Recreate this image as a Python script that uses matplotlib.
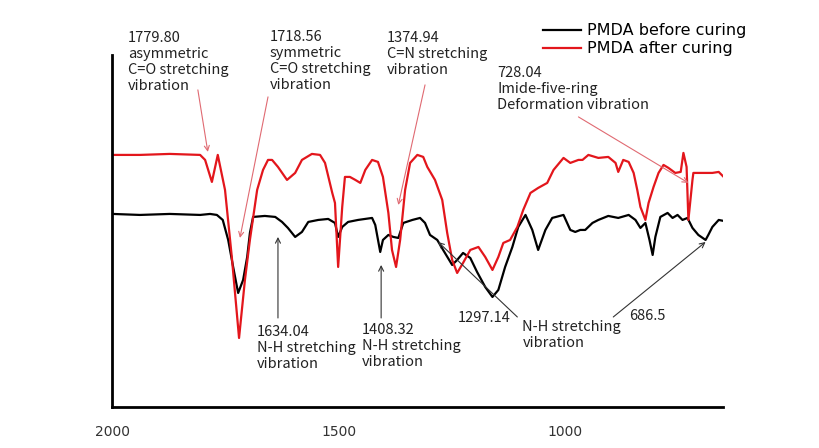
import matplotlib
matplotlib.use("Agg")
import matplotlib.pyplot as plt

# wavenumber (cm-1) and transmittance (a.u.)
before_x = [1999, 1939, 1873, 1806, 1784, 1769, 1756, 1744, 1733, 1722, 1711, 1702, 1696, 1689,
            1663, 1640, 1625, 1612, 1596, 1581, 1567, 1545, 1523, 1508, 1501, 1492, 1479, 1457,
            1426, 1419, 1408, 1402, 1390, 1379, 1368, 1357, 1337, 1320, 1309, 1298, 1282, 1269,
            1249, 1238, 1225, 1209, 1194, 1176, 1160, 1147, 1132, 1116, 1103, 1087, 1072, 1059,
            1043, 1028, 1003, 988, 977, 966, 955, 939, 926, 904, 882, 859, 844, 833, 822, 813,
            806, 800, 789, 773, 762, 751, 740, 729, 718, 705, 689, 683, 674, 660, 649]
before_y = [193, 192, 193, 192, 193, 192, 187, 167, 140, 114, 127, 150, 174, 190,
            191, 190, 185, 179, 170, 175, 185, 187, 188, 184, 170, 180, 185, 187,
            189, 182, 155, 167, 172, 170, 169, 184, 187, 189, 184, 172, 167, 157,
            142, 147, 154, 149, 135, 120, 110, 117, 140, 160, 180, 192, 177, 157,
            177, 189, 192, 177, 175, 177, 177, 184, 187, 191, 189, 192, 187, 179, 184, 167,
            152, 170, 190, 194, 189, 192, 187, 189, 179, 172, 167, 172, 180, 187, 186]

after_x = [1999, 1939, 1873, 1806, 1795, 1780, 1767, 1751, 1736, 1720, 1707, 1696, 1680, 1667,
           1656, 1647, 1634, 1614, 1596, 1581, 1559, 1541, 1530, 1514, 1508, 1501, 1492, 1486,
           1475, 1463, 1452, 1441, 1426, 1413, 1402, 1390, 1382, 1373, 1364, 1353, 1342, 1326,
           1313, 1304, 1287, 1271, 1260, 1249, 1238, 1225, 1209, 1191, 1176, 1160, 1147, 1136,
           1121, 1105, 1092, 1076, 1059, 1039, 1025, 1003, 988, 970, 961, 948, 926, 904, 888,
           882, 871, 859, 848, 840, 833, 822, 815, 804, 793, 782, 771, 756, 744, 738, 731, 727,
           718, 716, 696, 674, 660, 649]
after_y = [252, 252, 253, 252, 247, 225, 252, 217, 150, 69, 127, 167, 217, 237,
           247, 247, 240, 227, 234, 247, 253, 252, 244, 214, 204, 140, 200, 230,
           230, 227, 224, 237, 247, 245, 230, 194, 157, 140, 167, 217, 244, 252,
           250, 240, 227, 207, 174, 147, 134, 144, 157, 160, 150, 137, 150, 164,
           167, 180, 197, 214, 219, 224, 237, 249, 244, 247, 247, 252, 249, 250, 244,
           235, 247, 245, 234, 217, 200, 187, 204, 220, 234, 242, 239, 234, 235, 254, 240, 187,
           227, 234, 234, 234, 235, 230]

series_labels = ["PMDA before curing", "PMDA after curing"]
xtick_values = [2000, 1500, 1000]

FONT = ["Noto Sans CJK KR", "DejaVu Sans"]
RED = "#e3161c"
ARROW_RED = "#e06a72"
ARROW_BLACK = "#333333"

fig = plt.figure(figsize=(8.2, 4.48), dpi=100)
ax = fig.add_axes([0.137, 0.0915, 0.745, 0.786])

l1, = ax.plot(before_x, before_y, color="black", lw=1.6, label=series_labels[0])
l2, = ax.plot(after_x, after_y, color=RED, lw=1.6, label=series_labels[1])

ax.set_xlim(2000, 650)
ax.set_ylim(0, 352)
ax.set_xticks(xtick_values)
ax.set_xticklabels([str(v) for v in xtick_values], family=["Liberation Sans Narrow", "DejaVu Sans"],
                   fontsize=10, color="#333333")
ax.tick_params(axis="x", length=0, pad=13)
ax.set_yticks([])
for s in ["top", "right"]:
    ax.spines[s].set_visible(False)
for s in ["left", "bottom"]:
    ax.spines[s].set_linewidth(2)

fig.legend(handles=[l1, l2], loc="upper left", bbox_to_anchor=(0.662, 0.948),
           bbox_transform=fig.transFigure, frameon=False,
           handlelength=2.4, handletextpad=0.35, labelspacing=0.2, borderpad=0,
           borderaxespad=0, prop={"family": "DejaVu Sans", "size": 11.5})

tkw = dict(family=FONT, fontsize=10.5, color="#222222", va="top", ha="left", linespacing=1.18)

ax.annotate("1779.80\nasymmetric\nC=O stretching\nvibration", xy=(1789, 255), xytext=(1966, 376),
            textcoords="data", **tkw)
ax.annotate("1718.56\nsymmetric\nC=O stretching\nvibration", xy=(1718, 169), xytext=(1652, 377),
            **tkw)
ax.annotate("1374.94\nC=N stretching\nvibration", xy=(1368, 202), xytext=(1393, 376), **tkw)
ax.annotate("728.04\nImide-five-ring\nDeformation vibration", xy=(727, 224), xytext=(1149, 341),
            **tkw)
ax.annotate("1634.04\nN-H stretching\nvibration", xy=(1634, 170), xytext=(1680, 82), **tkw)
ax.annotate("1408.32\nN-H stretching\nvibration", xy=(1406, 142), xytext=(1448, 84), **tkw)
ax.annotate("1297.14", xy=(1160, 110), xytext=(1236, 96), **tkw)
ax.annotate("N-H stretching\nvibration", xy=(1094, 87), xytext=(1094, 87), **tkw)
ax.annotate("686.5", xy=(859, 98), xytext=(859, 98), **tkw)


def arrow(x0, y0, x1, y1, color):
    ax.annotate("", xy=(x1, y1), xytext=(x0, y0),
                arrowprops=dict(arrowstyle="->", lw=0.8, color=color,
                                shrinkA=0, shrinkB=0, mutation_scale=9))


arrow(1811, 317, 1789, 255, ARROW_RED)
arrow(1656, 310, 1718, 169, ARROW_RED)
arrow(1309, 322, 1368, 202, ARROW_RED)
arrow(970, 290, 727, 224, ARROW_RED)
arrow(1634, 89, 1634, 170, ARROW_BLACK)
arrow(1406, 89, 1406, 142, ARROW_BLACK)
arrow(1105, 90, 1280, 165, ARROW_BLACK)
arrow(893, 90, 689, 165, ARROW_BLACK)

fig.savefig("out.png", dpi=100)
